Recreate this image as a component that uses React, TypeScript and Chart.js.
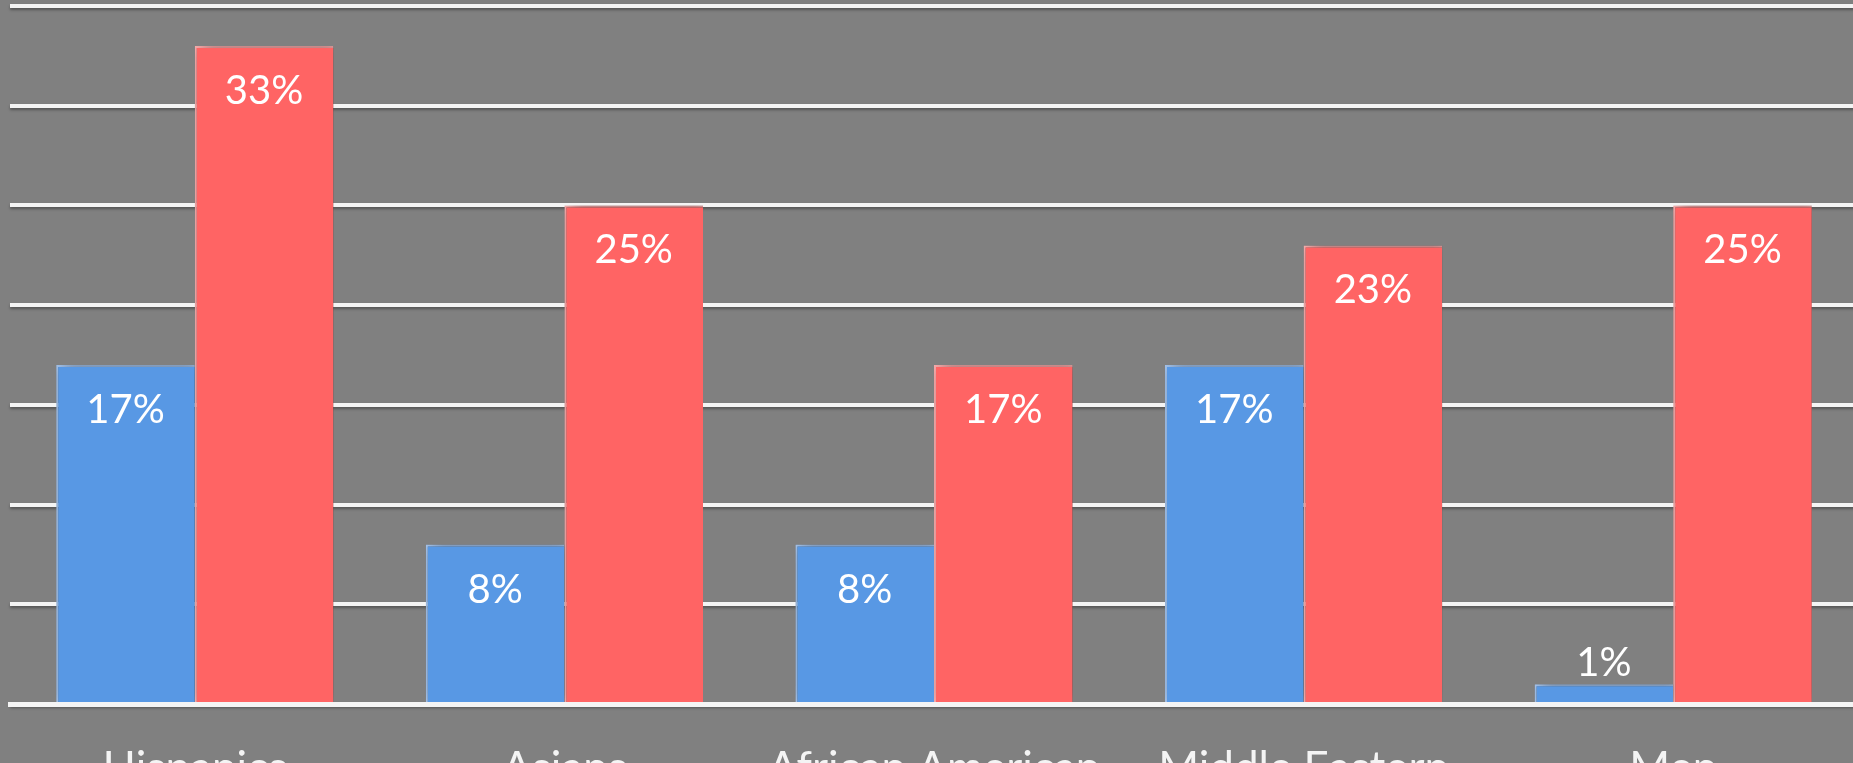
import React, { useEffect, useRef } from "react";
import { Chart, registerables } from "chart.js";

Chart.register(...registerables);

const categories = ["Hispanics", "Asians", "African American", "Middle Eastern", "Men"];
const blueValues = [17, 8, 8, 17, 1];
const redValues = [33, 25, 17, 23, 25];
const yMax = 35;
const yStep = 5;

const FONT = "Lato, 'Open Sans', sans-serif";

const effectsPlugin = {
  id: "effects",
  beforeDraw(chart: any) {
    const ctx = chart.ctx;
    ctx.save();
    ctx.shadowColor = "rgba(0,0,0,0.35)";
    ctx.shadowOffsetY = 2;
    ctx.shadowBlur = 3;
  },
  beforeDatasetsDraw(chart: any) {
    const ctx = chart.ctx;
    ctx.restore();
    ctx.save();
    ctx.shadowColor = "rgba(0,0,0,0.5)";
    ctx.shadowBlur = 14;
    ctx.shadowOffsetX = 5;
    ctx.shadowOffsetY = 0;
  },
  afterDatasetsDraw(chart: any) {
    const ctx = chart.ctx;
    ctx.restore();
    ctx.save();
    ctx.fillStyle = "#ffffff";
    ctx.font = `40px ${FONT}`;
    ctx.textAlign = "center";
    ctx.textBaseline = "middle";
    chart.data.datasets.forEach((ds: any, i: number) => {
      const meta = chart.getDatasetMeta(i);
      meta.data.forEach((bar: any, j: number) => {
        const { x, y, base } = bar.getProps(["x", "y", "base"], true);
        const h = base - y;
        const text = ds.data[j] + "%";
        if (h > 60) ctx.fillText(text, x, y + 45);
        else ctx.fillText(text, x, y - 21);
      });
    });
    ctx.restore();
  },
};

export default function App() {
  const ref = useRef<HTMLCanvasElement | null>(null);
  useEffect(() => {
    if (!ref.current) return;
    const chart = new Chart(ref.current, {
      type: "bar",
      data: {
        labels: categories,
        datasets: [
          {
            label: "Series 1",
            data: blueValues,
            backgroundColor: "#5898e4",
            borderColor: "#a8c8f2",
            borderWidth: { top: 2, left: 2, right: 0, bottom: 0 },
            barPercentage: 1,
            categoryPercentage: 0.75,
          },
          {
            label: "Series 2",
            data: redValues,
            backgroundColor: "#ff6464",
            borderColor: "#ffb0b0",
            borderWidth: { top: 2, left: 2, right: 0, bottom: 0 },
            barPercentage: 1,
            categoryPercentage: 0.75,
          },
        ],
      },
      options: {
        responsive: false,
        animation: false,
        devicePixelRatio: 1,
        layout: { padding: { left: 10, right: 2, top: 6, bottom: 9 } },
        plugins: { legend: { display: false }, tooltip: { enabled: false } },
        scales: {
          x: {
            grid: { display: false },
            border: { display: true, color: "#f4f4f4", width: 5, z: 1 },
            ticks: {
              color: "#f4f4f4",
              font: { family: FONT, size: 44 },
              padding: 30,
              maxRotation: 0,
              autoSkip: false,
              z: 1,
            },
          },
          y: {
            min: 0,
            max: yMax,
            ticks: { display: false, stepSize: yStep },
            grid: { color: "#f4f4f4", lineWidth: 4, drawTicks: false },
            border: { display: false },
          },
        },
      },
      plugins: [effectsPlugin],
    } as any);
    return () => chart.destroy();
  }, []);
  return (
    <div
      style={{
        position: "fixed",
        left: 0,
        top: 0,
        width: 1853,
        height: 763,
        overflow: "hidden",
        background: "#808080",
      }}
    >
      <canvas ref={ref} width={1860} height={834} style={{ display: "block", width: 1860, height: 834 }} />
    </div>
  );
}
